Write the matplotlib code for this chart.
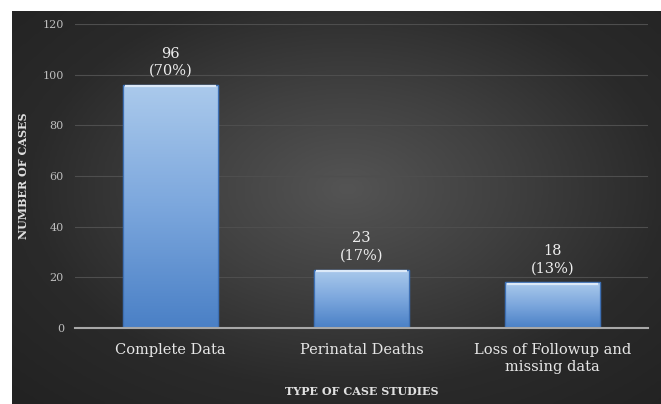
import numpy as np
import matplotlib
matplotlib.use("Agg")
import matplotlib.pyplot as plt
from matplotlib.colors import LinearSegmentedColormap

categories = ["Complete Data", "Perinatal Deaths", "Loss of Followup and\nmissing data"]
counts = [96, 23, 18]
percents = ["70%", "17%", "13%"]
y_ticks = [0, 20, 40, 60, 80, 100, 120]

plt.rcParams['font.family'] = ['DejaVu Serif']

W, H = 661, 404
fig = plt.figure(figsize=(W / 100, H / 100), dpi=100)
fig.patch.set_facecolor("white")

# dark radial-gradient background panel
bg = fig.add_axes([12 / W, 0, 1 - 12 / W, 1 - 11 / H])
bg.set_axis_off()
yy, xx = np.mgrid[0:200, 0:330]
cx, cy = 170.0, 90.0
r = np.sqrt(((xx - cx) / 300) ** 2 + ((yy - cy) / 190) ** 2)
r = r / r.max()
cmap_bg = LinearSegmentedColormap.from_list("bg", ["#545454", "#404040", "#2a2a2a", "#222222"])
bg.imshow(r, cmap=cmap_bg, aspect="auto", extent=[0, 1, 0, 1], interpolation="bilinear")
bg.set_xlim(0, 1)
bg.set_ylim(0, 1)

ax = fig.add_axes([75 / W, (H - 328) / H, (648 - 75) / W, (328 - 24) / H])
ax.set_facecolor("none")
x = np.arange(len(categories))
bars = ax.bar(x, counts, width=0.5, color="#7aa6dc", edgecolor="#3d6fb3", linewidth=0.9, zorder=2)

grad = np.linspace(0, 1, 256).reshape(-1, 1)
cmap_bar = LinearSegmentedColormap.from_list("bar", ["#4a80c6", "#7ca7dd", "#abcaec"])
for b in bars:
    bx, by = b.get_x(), b.get_y()
    bw, bh = b.get_width(), b.get_height()
    im = ax.imshow(grad, cmap=cmap_bar, aspect="auto", origin="lower",
                   extent=[bx, bx + bw, by, by + bh], zorder=3, interpolation="bilinear")
    im.set_clip_path(b)
    ax.plot([bx, bx, bx + bw, bx + bw], [by, by + bh, by + bh, by], color="#3d6fb3",
            lw=0.9, zorder=4)
    # top bevel highlight
    ax.plot([bx + 0.01, bx + bw - 0.01], [by + bh - 0.6, by + bh - 0.6], color="#dce9f8",
            lw=1.6, zorder=4, solid_capstyle="butt")

for xi, c, p in zip(x, counts, percents):
    ax.annotate(f"{c}\n({p})", (xi, c), xytext=(0, 5), textcoords="offset points",
                ha="center", va="bottom", color="#ededed", fontsize=10.5,
                fontweight="medium", linespacing=1.3, zorder=5)

ax.set_xlim(-0.5, len(categories) - 0.5)
ax.set_ylim(0, 120)
ax.set_yticks(y_ticks)
ax.yaxis.grid(True, color="#4e4e4e", lw=0.8, zorder=0)
ax.set_axisbelow(True)
for s in ["top", "right", "left"]:
    ax.spines[s].set_visible(False)
ax.spines["bottom"].set_color("#a8a8a8")
ax.spines["bottom"].set_linewidth(1.5)
ax.spines["bottom"].set_zorder(6)
ax.tick_params(axis="y", length=0, colors="#bdbdbd", labelsize=8, pad=8)
ax.tick_params(axis="x", length=0, colors="#e6e6e6", labelsize=10.5, pad=10.5)
ax.set_xticks(x)
ax.set_xticklabels(categories, linespacing=1.35)
ax.set_ylabel("NUMBER OF CASES", color="#e0e0e0", fontsize=8, fontweight="bold", labelpad=10)
ax.set_xlabel("TYPE OF CASE STUDIES", color="#e0e0e0", fontsize=8, fontweight="bold", labelpad=8)

fig.savefig("out.png", dpi=100)
